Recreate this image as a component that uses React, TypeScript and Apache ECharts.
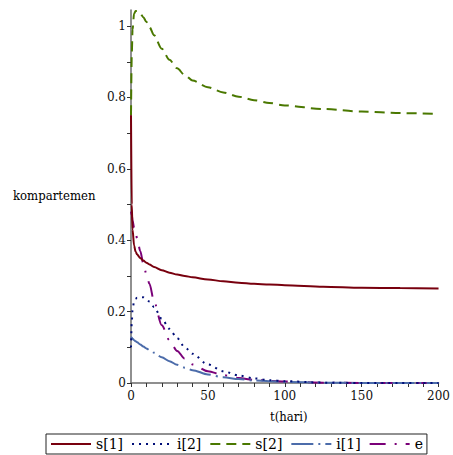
import { useEffect, useRef } from "react";
import * as echarts from "echarts";

const tValues = [0, 0.5, 1, 2, 3, 4, 6, 8, 10, 12, 15, 20, 25, 30, 35, 40, 50, 60, 70, 80, 90, 100, 125, 150, 175, 200];
const s1Values = [0.75, 0.5, 0.43, 0.385, 0.368, 0.36, 0.35, 0.343, 0.337, 0.332, 0.325, 0.316, 0.309, 0.304, 0.3, 0.296, 0.29, 0.285, 0.281, 0.278, 0.276, 0.274, 0.27, 0.267, 0.266, 0.265];
const i2Values = [0.1, 0.17, 0.205, 0.228, 0.236, 0.239, 0.241, 0.24, 0.235, 0.228, 0.213, 0.18, 0.152, 0.126, 0.1, 0.082, 0.052, 0.033, 0.021, 0.013, 0.008, 0.005, 0.001, 0, 0, 0];
const s2Values = [0.75, 0.92, 0.99, 1.035, 1.042, 1.042, 1.035, 1.025, 1.012, 0.997, 0.974, 0.9365, 0.9055, 0.8815, 0.8625, 0.8475, 0.8285, 0.814, 0.802, 0.7925, 0.7845, 0.7775, 0.7675, 0.7605, 0.7562, 0.7535];
const i1Values = [0.13, 0.127, 0.124, 0.12, 0.117, 0.114, 0.108, 0.102, 0.097, 0.092, 0.085, 0.072, 0.061, 0.051, 0.043, 0.036, 0.024, 0.016, 0.011, 0.007, 0.005, 0.003, 0.001, 0, 0, 0];
const eValues = [0.48, 0.47, 0.455, 0.435, 0.42, 0.405, 0.37, 0.335, 0.305, 0.278, 0.228, 0.162, 0.12, 0.09, 0.068, 0.052, 0.033, 0.022, 0.014, 0.009, 0.006, 0.004, 0.001, 0, 0, 0];

const seriesNames = ["s[1]", "i[2]", "s[2]", "i[1]", "e"];
const xTickLabels = [0, 50, 100, 150, 200];
const xTickMarks = [0, 10, 20, 30, 40, 50, 60, 70, 80, 90, 100, 110, 120, 130, 140, 150, 160, 170, 180, 190, 200];
const yTickLabels = [0, 0.2, 0.4, 0.6, 0.8, 1];
const yTickMarks = [0, 0.1, 0.2, 0.3, 0.4, 0.5, 0.6, 0.7, 0.8, 0.9, 1];
const yAxisTitle = "kompartemen";
const xAxisTitle = "t(hari)";

const SERIF = "DejaVu Serif";
const SERIF_C = "DejaVu Serif Condensed";

const pairs = (vals: number[]) => tValues.map((t, i) => [t, vals[i]]);

export default function App() {
  const ref = useRef<HTMLDivElement>(null);
  useEffect(() => {
    const chart = echarts.init(ref.current!, null, { renderer: "svg" });
    const styles: any[] = [
      { color: "#78000E", type: "solid", width: 2 },
      { color: "#000E78", type: [2, 5], width: 2 },
      { color: "#4A7800", type: [10, 6], width: 2 },
      { color: "#4C6CAA", type: [22, 5, 2, 5], width: 2 },
      { color: "#7A0078", type: [16, 9, 2, 9], width: 2 },
    ];
    const data = [s1Values, i2Values, s2Values, i1Values, eValues];
    chart.setOption({
      animation: false,
      backgroundColor: "#ffffff",
      textStyle: { fontFamily: SERIF },
      grid: { left: 131, right: 7, top: 10, bottom: 72 },
      xAxis: {
        type: "value",
        min: 0,
        max: 200,
        interval: 50,
        splitLine: { show: false },
        axisLine: { lineStyle: { color: "#6b6b6b", width: 1.5 } },
        axisTick: { length: 4, lineStyle: { color: "#333" }, customValues: xTickMarks },
        axisLabel: {
          customValues: xTickLabels,
          fontFamily: SERIF,
          fontSize: 12,
          color: "#111",
          margin: 7,
        },
      },
      yAxis: {
        type: "value",
        min: 0,
        max: 1.045,
        splitLine: { show: false },
        axisLine: { show: true, lineStyle: { color: "#6b6b6b", width: 1.5 } },
        axisTick: { show: true, length: 4, lineStyle: { color: "#333" }, customValues: yTickMarks },
        axisLabel: {
          customValues: yTickLabels,
          formatter: (v: number) => String(Math.round(v * 10) / 10),
          fontFamily: SERIF,
          fontSize: 12,
          color: "#111",
          margin: 5,
        },
      },
      legend: {
        data: seriesNames,
        left: 46,
        bottom: 1,
        orient: "horizontal",
        borderColor: "#222",
        borderWidth: 1,
        borderRadius: 0,
        padding: [3, 4, 3, 4],
        itemGap: 8,
        itemWidth: 40,
        itemHeight: 14,
        itemStyle: { opacity: 0 },
        textStyle: { fontFamily: SERIF, fontSize: 14, color: "#000" },
      },
      graphic: [
        {
          type: "text",
          left: 13,
          top: 189,
          style: { text: yAxisTitle, fontFamily: SERIF_C, fontSize: 13, fill: "#000" },
        },
        {
          type: "text",
          left: 270,
          top: 410,
          style: { text: xAxisTitle, fontFamily: SERIF_C, fontSize: 13, fill: "#000" },
        },
      ],
      series: seriesNames.map((name, k) => ({
        name,
        type: "line",
        data: pairs(data[k]),
        symbol: "none",
        smooth: 0.3,
        smoothMonotone: "x",
        lineStyle: styles[k],
        itemStyle: { color: styles[k].color },
        z: 5 - k,
      })),
    });
    return () => chart.dispose();
  }, []);
  return (
    <div
      ref={ref}
      style={{ width: 453, height: 455, position: "fixed", left: 0, top: 0, background: "#fff" }}
    />
  );
}
